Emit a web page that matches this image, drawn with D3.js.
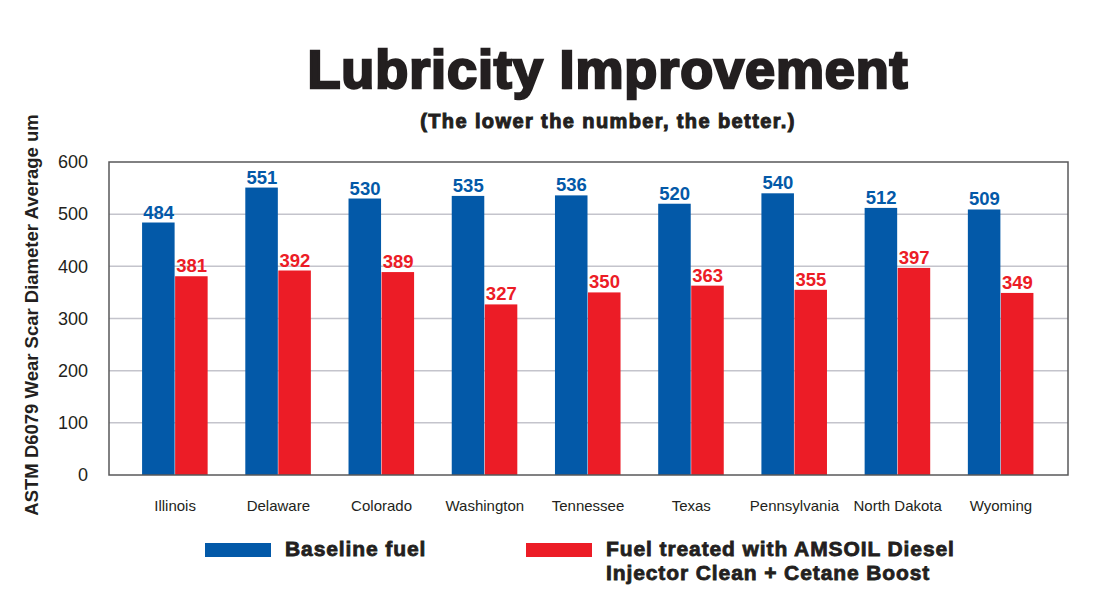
<!DOCTYPE html>
<html>
  <head>
    <meta http-equiv="Content-Type" content="text/html;charset=utf-8"/>
    <script src="https://d3js.org/d3.v7.min.js"></script>
    <style type="text/css">
    body { margin: 0; background: #fff; }
    .grid-line { stroke: #c4c4cc; stroke-width: 1.5px; }
    text { font-family: "Liberation Sans", Arial, sans-serif; }
    </style>
  </head>
  <body>
    <script type="text/javascript">
      var states = ["Illinois", "Delaware", "Colorado", "Washington", "Tennessee",
                    "Texas", "Pennsylvania", "North Dakota", "Wyoming"];
      var baseline = [484, 551, 530, 535, 536, 520, 540, 512, 509];
      var treated = [381, 392, 389, 327, 350, 363, 355, 397, 349];
      var yTicks = [0, 100, 200, 300, 400, 500, 600];
      var seriesNames = ["Baseline fuel", "Fuel treated with AMSOIL Diesel|Injector Clean + Cetane Boost"];
      var colors = ["#0359a8", "#ec1c26"];

      var width = 1105, height = 603;
      var plotLeft = 109, plotRight = 1068, plotTop = 162, plotBottom = 475;

      var svg = d3.select("body").append("svg")
          .attr("width", width)
          .attr("height", height);

      var x = d3.scaleBand()
          .domain(states)
          .range([123.5, 1052.5])
          .paddingInner(0.36)
          .paddingOuter(0.18);

      var xs = d3.scaleBand()
          .domain([0, 1])
          .range([0, x.bandwidth()]);

      var y = d3.scaleLinear()
          .domain([0, 600])
          .range([plotBottom, plotTop]);

      // grid lines
      svg.append("g").selectAll("line")
        .data(yTicks.filter(function(d) { return d > 0 && d < 600; }))
        .enter().append("line")
          .classed("grid-line", true)
          .attr("x1", plotLeft).attr("x2", plotRight)
          .attr("y1", function(d) { return y(d); })
          .attr("y2", function(d) { return y(d); });

      // y axis labels
      var yAxis = d3.axisLeft(y).tickValues(yTicks).tickSize(0).tickPadding(21);
      svg.append("g")
          .attr("transform", "translate(" + plotLeft + ",0)")
          .call(yAxis)
          .call(function(g) { g.select(".domain").remove(); })
          .selectAll("text")
            .attr("font-family", "Liberation Sans, Arial, sans-serif")
            .attr("font-size", 18)
            .attr("fill", "#231f20");

      // x axis labels
      var xAxis = d3.axisBottom(x).tickSize(0).tickPadding(25);
      svg.append("g")
          .attr("transform", "translate(0," + plotBottom + ")")
          .call(xAxis)
          .call(function(g) { g.select(".domain").remove(); })
          .selectAll("text")
            .attr("font-family", "Liberation Sans, Arial, sans-serif")
            .attr("font-size", 15)
            .attr("fill", "#231f20");

      var series = [baseline, treated];
      series.forEach(function(vals, si) {
        var g = svg.append("g");
        g.selectAll("rect")
          .data(vals)
          .enter().append("rect")
            .attr("x", function(d, i) { return x(states[i]) + xs(si); })
            .attr("width", xs.bandwidth() - 0.5)
            .attr("y", function(d) { return y(d); })
            .attr("height", function(d) { return plotBottom - y(d); })
            .attr("fill", colors[si]);
        g.selectAll("text")
          .data(vals)
          .enter().append("text")
            .attr("x", function(d, i) { return x(states[i]) + xs(si) + xs.bandwidth() / 2; })
            .attr("y", function(d) { return y(d) - 4; })
            .attr("text-anchor", "middle")
            .attr("font-size", 18.5)
            .attr("font-weight", "bold")
            .attr("fill", colors[si])
            .text(function(d) { return d; });
      });

      // plot border
      svg.append("rect")
          .attr("x", plotLeft).attr("y", plotTop)
          .attr("width", plotRight - plotLeft).attr("height", plotBottom - plotTop)
          .attr("fill", "none")
          .attr("stroke", "#58585a")
          .attr("stroke-width", 1.5);

      // y axis title
      svg.append("text")
          .attr("transform", "translate(38,315) rotate(-90)")
          .attr("text-anchor", "middle")
          .attr("font-size", 18.5)
          .attr("font-weight", "bold")
          .attr("fill", "#231f20")
          .text("ASTM D6079 Wear Scar Diameter Average um");

      // title
      svg.append("text")
          .attr("x", 608).attr("y", 88)
          .attr("text-anchor", "middle")
          .attr("font-size", 54)
          .attr("font-weight", "bold")
          .attr("letter-spacing", 0.9)
          .attr("fill", "#231f20")
          .attr("stroke", "#231f20")
          .attr("stroke-width", 2.5)
          .text("Lubricity Improvement");

      svg.append("text")
          .attr("x", 608).attr("y", 128)
          .attr("text-anchor", "middle")
          .attr("font-size", 20)
          .attr("font-weight", "bold")
          .attr("letter-spacing", 1.4)
          .attr("fill", "#231f20")
          .attr("stroke", "#231f20")
          .attr("stroke-width", 1)
          .text("(The lower the number, the better.)");

      // legend
      var legendX = [205, 526];
      seriesNames.forEach(function(name, si) {
        var lg = svg.append("g").attr("transform", "translate(" + legendX[si] + ",543)");
        lg.append("rect")
            .attr("width", 66).attr("height", 14)
            .attr("fill", colors[si]);
        var t = lg.append("text")
            .attr("x", 80).attr("y", 13)
            .attr("font-size", 21)
            .attr("font-weight", "bold")
            .attr("letter-spacing", 0.9)
            .attr("fill", "#231f20")
            .attr("stroke", "#231f20")
            .attr("stroke-width", 0.8);
        name.split("|").forEach(function(line, li) {
          t.append("tspan").attr("x", 80).attr("dy", li === 0 ? 0 : 24).text(line);
        });
      });
    </script>
  </body>
</html>
